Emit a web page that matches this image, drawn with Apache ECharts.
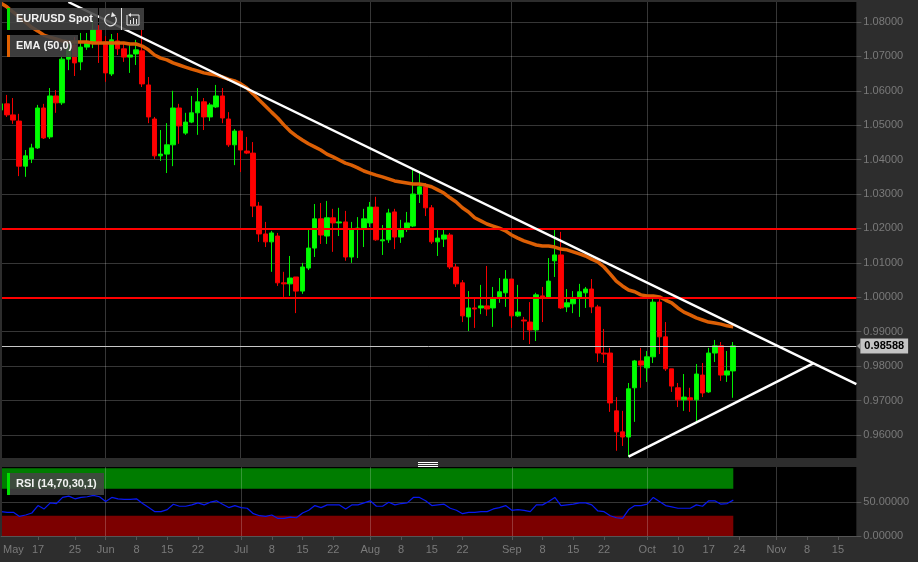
<!DOCTYPE html>
<html>
<head>
<meta charset="utf-8">
<title>EUR/USD Spot</title>
<script src="https://cdn.jsdelivr.net/npm/echarts@6/dist/echarts.min.js"></script>
<style>
  html, body { margin: 0; padding: 0; background: #2d2d2d; }
  #chart { width: 918px; height: 562px; }
</style>
</head>
<body>
<div id="chart"></div>
<script>
// open, close, low, high per session, starting Mon 9 May 2022
const candles = [
  [1.0544,1.0562,1.0541,1.0565],[1.0562,1.0530,1.0524,1.0588],[1.0530,1.0515,1.0504,1.0579],[1.0512,1.0381,1.0352,1.0533],
  [1.0381,1.0411,1.0350,1.0428],[1.0402,1.0434,1.0390,1.0446],[1.0434,1.0550,1.0431,1.0559],[1.0550,1.0463,1.0460,1.0562],
  [1.0466,1.0585,1.0460,1.0608],[1.0585,1.0565,1.0536,1.0602],[1.0565,1.0692,1.0559,1.0698],[1.0692,1.0719,1.0660,1.0736],
  [1.0733,1.0681,1.0643,1.0756],[1.0684,1.0727,1.0660,1.0768],[1.0727,1.0742,1.0719,1.0768],[1.0742,1.0777,1.0724,1.0806],
  [1.0777,1.0742,1.0681,1.0791],[1.0742,1.0652,1.0626,1.0759],[1.0649,1.0748,1.0643,1.0765],[1.0745,1.0722,1.0704,1.0768],
  [1.0722,1.0698,1.0684,1.0742],[1.0698,1.0704,1.0652,1.0739],[1.0707,1.0719,1.0675,1.0748],[1.0716,1.0620,1.0611,1.0777],
  [1.0617,1.0524,1.0506,1.0640],[1.0518,1.0411,1.0402,1.0524],[1.0411,1.0416,1.0396,1.0486],[1.0416,1.0443,1.0361,1.0506],
  [1.0443,1.0550,1.0381,1.0600],[1.0550,1.0498,1.0446,1.0562],[1.0477,1.0509,1.0472,1.0536],[1.0509,1.0536,1.0506,1.0585],
  [1.0536,1.0568,1.0472,1.0608],[1.0568,1.0524,1.0486,1.0579],[1.0524,1.0559,1.0512,1.0565],[1.0553,1.0585,1.0550,1.0617],
  [1.0585,1.0521,1.0506,1.0608],[1.0518,1.0443,1.0437,1.0538],[1.0443,1.0483,1.0384,1.0489],[1.0483,1.0428,1.0364,1.0486],
  [1.0425,1.0419,1.0416,1.0466],[1.0419,1.0265,1.0233,1.0451],[1.0265,1.0184,1.0161,1.0277],[1.0184,1.0161,1.0146,1.0219],
  [1.0161,1.0187,1.0074,1.0193],[1.0178,1.0042,1.0033,1.0187],[1.0042,1.0039,1.0001,1.0074],[1.0039,1.0056,1.0004,1.0120],
  [1.0059,1.0018,0.9954,1.0059],[1.0018,1.0088,1.0010,1.0100],[1.0085,1.0143,1.0079,1.0201],[1.0143,1.0228,1.0117,1.0271],
  [1.0228,1.0181,1.0155,1.0274],[1.0178,1.0231,1.0155,1.0280],[1.0231,1.0216,1.0132,1.0257],[1.0216,1.0219,1.0178,1.0260],
  [1.0219,1.0117,1.0106,1.0251],[1.0117,1.0196,1.0100,1.0219],[1.0199,1.0201,1.0114,1.0233],[1.0199,1.0228,1.0146,1.0257],
  [1.0216,1.0262,1.0204,1.0277],[1.0262,1.0167,1.0164,1.0292],[1.0164,1.0167,1.0123,1.0210],[1.0167,1.0245,1.0158,1.0257],
  [1.0248,1.0175,1.0140,1.0257],[1.0175,1.0196,1.0158,1.0225],[1.0199,1.0216,1.0190,1.0248],[1.0207,1.0300,1.0204,1.0370],
  [1.0300,1.0321,1.0274,1.0361],[1.0321,1.0260,1.0236,1.0332],[1.0260,1.0161,1.0155,1.0268],[1.0161,1.0172,1.0120,1.0196],
  [1.0169,1.0181,1.0146,1.0201],[1.0181,1.0088,1.0082,1.0187],[1.0088,1.0039,1.0030,1.0097],[1.0042,0.9946,0.9928,1.0050],
  [0.9943,0.9969,0.9902,1.0018],[0.9969,0.9966,0.9911,0.9998],[0.9969,0.9975,0.9951,1.0036],[0.9975,0.9966,0.9946,1.0091],
  [0.9969,0.9998,0.9914,1.0030],[1.0001,1.0016,0.9984,1.0056],[1.0013,1.0053,0.9972,1.0079],[1.0053,0.9946,0.9911,1.0053],
  [0.9946,0.9957,0.9943,1.0036],[0.9934,0.9931,0.9876,0.9943],[0.9928,0.9905,0.9864,0.9986],[0.9905,1.0007,0.9873,1.0013],
  [1.0004,1.0001,0.9928,1.0030],[0.9998,1.0047,0.9995,1.0114],[1.0106,1.0123,1.0059,1.0199],[1.0123,0.9969,0.9966,1.0190],
  [0.9972,0.9984,0.9957,1.0024],[0.9981,0.9998,0.9954,1.0018],[0.9998,1.0016,0.9943,1.0039],[1.0013,1.0024,0.9969,1.0030],
  [1.0024,0.9972,0.9954,1.0053],[0.9972,0.9838,0.9812,0.9978],[0.9838,0.9835,0.9809,0.9908],[0.9838,0.9693,0.9667,0.9853],
  [0.9670,0.9609,0.9554,0.9710],[0.9609,0.9594,0.9568,0.9670],[0.9594,0.9734,0.9536,0.9751],[0.9737,0.9815,0.9638,0.9818],
  [0.9815,0.9803,0.9737,0.9853],[0.9795,0.9827,0.9754,0.9844],[0.9827,0.9986,0.9809,0.9998],[0.9986,0.9885,0.9835,0.9998],
  [0.9885,0.9792,0.9786,0.9928],[0.9792,0.9742,0.9725,0.9792],[0.9737,0.9702,0.9681,0.9751],[0.9702,0.9710,0.9670,0.9777],
  [0.9708,0.9702,0.9667,0.9737],[0.9702,0.9777,0.9638,0.9806],[0.9774,0.9722,0.9710,0.9809],[0.9725,0.9838,0.9722,0.9853],
  [0.9838,0.9859,0.9812,0.9876],[0.9859,0.9774,0.9757,0.9870],[0.9774,0.9786,0.9754,0.9844],[0.9786,0.98588,0.9708,0.9870]
];

const ema = [
  1.0855,1.0844,1.0829,1.0815,1.0800,1.0785,1.0774,1.0762,1.0756,1.0751,
  1.0745,1.0742,1.0742,1.0742,1.0742,1.0739,1.0739,1.0739,1.0739,1.0739,
  1.0739,1.0736,1.0736,1.0730,1.0719,1.0704,1.0695,1.0690,1.0681,1.0675,
  1.0669,1.0663,1.0658,1.0652,1.0649,1.0646,1.0640,1.0634,1.0629,1.0620,
  1.0608,1.0591,1.0573,1.0556,1.0538,1.0521,1.0501,1.0483,1.0469,1.0457,
  1.0446,1.0437,1.0428,1.0416,1.0408,1.0399,1.0390,1.0384,1.0376,1.0367,
  1.0361,1.0355,1.0350,1.0344,1.0338,1.0335,1.0332,1.0329,1.0329,1.0326,
  1.0321,1.0312,1.0303,1.0289,1.0277,1.0260,1.0248,1.0231,1.0222,1.0213,
  1.0207,1.0201,1.0193,1.0181,1.0172,1.0164,1.0158,1.0152,1.0149,1.0149,
  1.0146,1.0140,1.0138,1.0132,1.0126,1.0120,1.0111,1.0103,1.0088,1.0068,
  1.0047,1.0033,1.0021,1.0016,1.0007,1.0004,1.0004,1.0001,0.9992,0.9984,
  0.9969,0.9957,0.9949,0.9940,0.9934,0.9928,0.9925,0.9922,0.9917,0.9914
];

const rsi = [
  36,35,35,29,31,34,45,40,49,48,57,59,55,57,58,60,58,51,57,55,
  54,54,55,48,42,36,36,39,47,44,44,46,49,46,50,52,47,42,45,42,
  41,33,30,29,31,26,26,28,27,34,38,45,42,46,46,46,40,46,46,49,
  52,44,44,50,46,48,49,57,57,52,45,46,47,41,38,33,35,35,36,36,
  40,42,45,38,39,38,36,46,46,51,57,45,46,47,49,49,46,37,36,30,
  27,26,39,45,45,47,57,51,45,43,41,41,41,46,44,52,52,47,48,53
];

// [session index, price] ends of the drawn trendlines
const fallingLine = [[11, 1.0858], [139, 0.9748]];
const risingLine = [[102, 0.9537], [132, 0.9808]];
const levels = [1.02, 1.0];
const lastPrice = 0.98588;

const priceTicks = [0.96, 0.97, 0.98, 0.99, 1.0, 1.01, 1.02, 1.03, 1.04, 1.05, 1.06, 1.07, 1.08];
const rsiTicks = [0, 50];
const rsiOverbought = [70, 100];
const rsiOversold = [0, 30];

const tickDates = ["2022-05-11","2022-05-17","2022-05-25","2022-06-01","2022-06-08","2022-06-15","2022-06-22","2022-07-01","2022-07-08","2022-07-15","2022-07-22","2022-08-01","2022-08-08","2022-08-15","2022-08-22","2022-09-01","2022-09-08","2022-09-15","2022-09-22","2022-10-03","2022-10-10","2022-10-17","2022-10-24","2022-11-01","2022-11-08","2022-11-15"];
const tickNames = ["May","17","25","Jun","8","15","22","Jul","8","15","22","Aug","8","15","22","Sep","8","15","22","Oct","10","17","24","Nov","8","15"];
const monthNames = ["Jun", "Jul", "Aug", "Sep", "Oct", "Nov"];

// weekdays only, with room on the right for the empty future sessions
const categories = [];
for (let d = new Date(Date.UTC(2022, 4, 9)); categories.length < 140; d.setUTCDate(d.getUTCDate() + 1)) {
  if (d.getUTCDay() !== 0 && d.getUTCDay() !== 6) categories.push(d.toISOString().slice(0, 10));
}

const nameOf = (date) => tickNames[tickDates.indexOf(date)];
const isMonth = (i, date) => monthNames.includes(nameOf(date));
const isTick = (i, date) => tickDates.includes(date) && nameOf(date) !== "May";

const FONT = '"Liberation Sans", Arial, sans-serif';
const GREY = "#7a7a7a";
const GRID = "rgba(255,255,255,0.21)";

const chart = echarts.init(document.getElementById("chart"));

// legend chips drawn on top of the plot
const chip = (x, y, w, color, label) => [
  { type: "rect", z: 50, shape: { x: x, y: y, width: w, height: 22 }, style: { fill: "rgba(68,68,68,0.88)" } },
  { type: "rect", z: 51, shape: { x: x, y: y, width: 3, height: 22 }, style: { fill: color } },
  { type: "text", z: 52, x: x + 9, y: y + 11, style: { text: label, fill: "#f2f2f2", font: "bold 11px " + FONT, verticalAlign: "middle" } }
];

const graphics = [
  // frame pieces
  { type: "rect", z: 40, shape: { x: 0, y: 0, width: 918, height: 2 }, style: { fill: "#2d2d2d" } },
  { type: "rect", z: 40, shape: { x: 0, y: 0, width: 2, height: 536 }, style: { fill: "#2d2d2d" } },
  { type: "rect", z: 40, shape: { x: 0, y: 458, width: 857, height: 9 }, style: { fill: "#2d2d2d" } },
  { type: "rect", z: 41, shape: { x: 418, y: 462, width: 20, height: 1 }, style: { fill: "#fff" } },
  { type: "rect", z: 41, shape: { x: 418, y: 464, width: 20, height: 1 }, style: { fill: "#fff" } },
  { type: "rect", z: 41, shape: { x: 418, y: 466, width: 20, height: 1 }, style: { fill: "#fff" } },
  // pointer of the last price tag
  { type: "polygon", z: 41, shape: { points: [[857, 346], [861, 342], [861, 350]] }, style: { fill: "#999" } },
  ...chip(7, 8, 91, "#00e000", "EUR/USD Spot"),
  ...chip(7, 35, 71, "#e06000", "EMA (50,0)"),
  ...chip(7, 473, 97, "#00e000", "RSI (14,70,30,1)"),
  // refresh and bar-chart buttons
  { type: "rect", z: 50, shape: { x: 99, y: 8, width: 45, height: 22 }, style: { fill: "rgba(68,68,68,0.88)" } },
  { type: "rect", z: 51, shape: { x: 121, y: 8, width: 1, height: 22 }, style: { fill: "#e8e8e8" } },
  { type: "arc", z: 51, shape: { cx: 110.5, cy: 20, r: 5.8, startAngle: -0.55, endAngle: -1.7, clockwise: true }, style: { stroke: "#e8e8e8", lineWidth: 1.2, fill: null } },
  { type: "polygon", z: 51, shape: { points: [[112, 12], [116, 16], [111, 17]] }, style: { fill: "#e8e8e8" } },
  { type: "polyline", z: 51, shape: { points: [[127, 15], [127, 25], [139, 25], [139, 15], [131, 15]] }, style: { stroke: "#e8e8e8", lineWidth: 1, fill: null } },
  { type: "polygon", z: 51, shape: { points: [[128, 15], [131, 13], [131, 17]] }, style: { fill: "#e8e8e8" } },
  { type: "rect", z: 51, shape: { x: 130, y: 20, width: 1, height: 4 }, style: { fill: "#e8e8e8" } },
  { type: "rect", z: 51, shape: { x: 133, y: 18, width: 1, height: 6 }, style: { fill: "#e8e8e8" } },
  { type: "rect", z: 51, shape: { x: 136, y: 19, width: 1, height: 5 }, style: { fill: "#e8e8e8" } }
];

const option = {
  animation: false,
  backgroundColor: "#2d2d2d",
  textStyle: { fontFamily: FONT },
  graphic: graphics,
  grid: [
    { left: 0.65, top: 2, width: 855.7, height: 456, show: true, backgroundColor: "#000", borderWidth: 0 },
    { left: 0.65, top: 467, width: 855.7, height: 69, show: true, backgroundColor: "#000", borderWidth: 0 }
  ],
  xAxis: [
    {
      type: "category",
      gridIndex: 0,
      data: categories,
      boundaryGap: false,
      axisLine: { show: false },
      axisTick: { show: false },
      axisLabel: { show: false },
      splitLine: { show: true, interval: isMonth, lineStyle: { color: GRID, width: 1 } }
    },
    {
      type: "category",
      gridIndex: 1,
      data: categories,
      boundaryGap: false,
      z: 3,
      axisLine: { show: true, lineStyle: { color: "#555", width: 1 } },
      axisTick: { show: true, length: 4, interval: isTick, lineStyle: { color: "#555" } },
      axisLabel: {
        show: true,
        interval: (i, date) => tickDates.includes(date),
        formatter: nameOf,
        color: GREY,
        fontFamily: FONT,
        fontSize: 11,
        margin: 8
      },
      splitLine: { show: true, interval: isMonth, lineStyle: { color: GRID, width: 1 } }
    }
  ],
  yAxis: [
    {
      type: "value",
      gridIndex: 0,
      position: "right",
      min: 0.9533,
      max: 1.0858,
      axisLine: { show: false },
      axisTick: { show: true, length: 5, customValues: priceTicks, lineStyle: { color: "#555" } },
      axisLabel: {
        show: true,
        customValues: priceTicks,
        formatter: (v) => v.toFixed(5),
        color: GREY,
        fontFamily: FONT,
        fontSize: 11,
        margin: 7,
        padding: [2, 0, 0, 0]
      },
      splitLine: { show: true, lineStyle: { color: GRID, width: 1 } }
    },
    {
      type: "value",
      gridIndex: 1,
      position: "right",
      min: 0,
      max: 102,
      axisLine: { show: false },
      axisTick: { show: true, length: 5, customValues: rsiTicks, lineStyle: { color: "#555" } },
      axisLabel: {
        show: true,
        customValues: rsiTicks,
        formatter: (v) => v.toFixed(5),
        color: GREY,
        fontFamily: FONT,
        fontSize: 11,
        margin: 7
      },
      splitLine: { show: true, lineStyle: { color: GRID, width: 1 } }
    }
  ],
  series: [
    {
      type: "candlestick",
      xAxisIndex: 0,
      yAxisIndex: 0,
      data: candles,
      barWidth: 5,
      itemStyle: { color: "#00ff00", color0: "#ff0000", borderColor: "#00f000", borderColor0: "#f40000", borderWidth: 1 },
      markLine: {
        silent: true,
        symbol: "none",
        precision: 5,
        animation: false,
        data: [
          { yAxis: levels[0], lineStyle: { color: "#ff0000", width: 2, type: "solid" }, label: { show: false } },
          { yAxis: levels[1], lineStyle: { color: "#ff0000", width: 2, type: "solid" }, label: { show: false } },
          {
            yAxis: lastPrice,
            lineStyle: { color: "#c8c8c8", width: 1, type: "solid" },
            label: {
              show: true,
              position: "end",
              distance: 4,
              formatter: lastPrice.toFixed(5),
              color: "#000",
              fontFamily: FONT,
              fontSize: 11,
              fontWeight: "bold",
              backgroundColor: "#c4c4c4",
              padding: [2, 4, 2, 4]
            }
          }
        ]
      }
    },
    {
      type: "line",
      xAxisIndex: 0,
      yAxisIndex: 0,
      data: ema,
      showSymbol: false,
      lineStyle: { color: "#dc5f05", width: 3.5 },
      z: 4
    },
    {
      type: "line",
      xAxisIndex: 0,
      yAxisIndex: 0,
      data: fallingLine,
      showSymbol: false,
      lineStyle: { color: "#fff", width: 2.5 },
      z: 5
    },
    {
      type: "line",
      xAxisIndex: 0,
      yAxisIndex: 0,
      data: risingLine,
      showSymbol: false,
      lineStyle: { color: "#fff", width: 2.5 },
      z: 5
    },
    {
      type: "line",
      xAxisIndex: 1,
      yAxisIndex: 1,
      data: rsi,
      showSymbol: false,
      lineStyle: { color: "#0818f0", width: 1.2 },
      z: 4,
      markArea: {
        silent: true,
        data: [
          [{ xAxis: 0, yAxis: rsiOverbought[0], itemStyle: { color: "#007c00" } }, { xAxis: 119, yAxis: rsiOverbought[1] }],
          [{ xAxis: 0, yAxis: rsiOversold[0], itemStyle: { color: "#7c0000" } }, { xAxis: 119, yAxis: rsiOversold[1] }]
        ]
      }
    }
  ]
};

chart.setOption(option);
</script>
</body>
</html>
